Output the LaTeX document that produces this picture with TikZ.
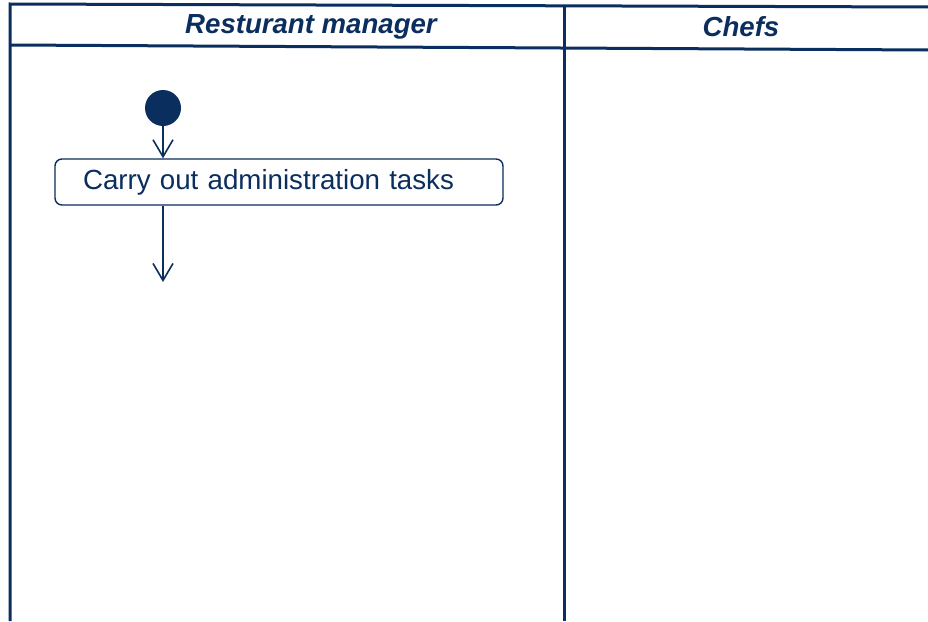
\documentclass[tikz,border=0pt]{standalone}
\usepackage{fontspec}
\setmainfont{Liberation Sans}
\usetikzlibrary{arrows.meta}
\definecolor{navy}{RGB}{10,46,94}
\tikzset{
  laneline/.style={draw=navy, line width=3pt},
  lanetitle/.style={font=\fontsize{27.6}{32}\selectfont\bfseries\itshape, text=navy, inner sep=0pt, anchor=base},
  actbox/.style={draw=navy, line width=1.4pt, rounded corners=7pt, fill=white, text=navy,
    font=\fontsize{27.7}{32}\selectfont, text width=392pt, align=left, inner xsep=28pt,
    minimum height=46pt, inner ysep=0pt},
  startnode/.style={circle, fill=navy, inner sep=0pt, minimum size=36pt},
  flow/.style={draw=navy, line width=1.6pt, -{Straight Barb[length=17pt,width=20pt,line width=1.6pt]}}
}
\begin{document}
\begin{tikzpicture}[x=1pt,y=-1pt]
\useasboundingbox (0,0) rectangle (928,621);
% swimlane frame
\draw[laneline] (10,621) -- (10,4) -- (928,7);
\draw[laneline] (10,45) -- (928,50);
\draw[laneline] (564,5) -- (564,621);
% lane titles
\node[lanetitle] (mgr) at (311,33) {Resturant manager};
\node[lanetitle] (chefs) at (741,36) {Chefs};
% activity
\node[startnode] (start) at (163,108) {};
\node[actbox] (admin) at (279,182) {Carry out administration tasks};
\coordinate (next) at (163,282);
\draw[flow] (start) -- (start |- admin.north);
\draw[flow] (admin.south -| start) -- (next);
\end{tikzpicture}
\end{document}
